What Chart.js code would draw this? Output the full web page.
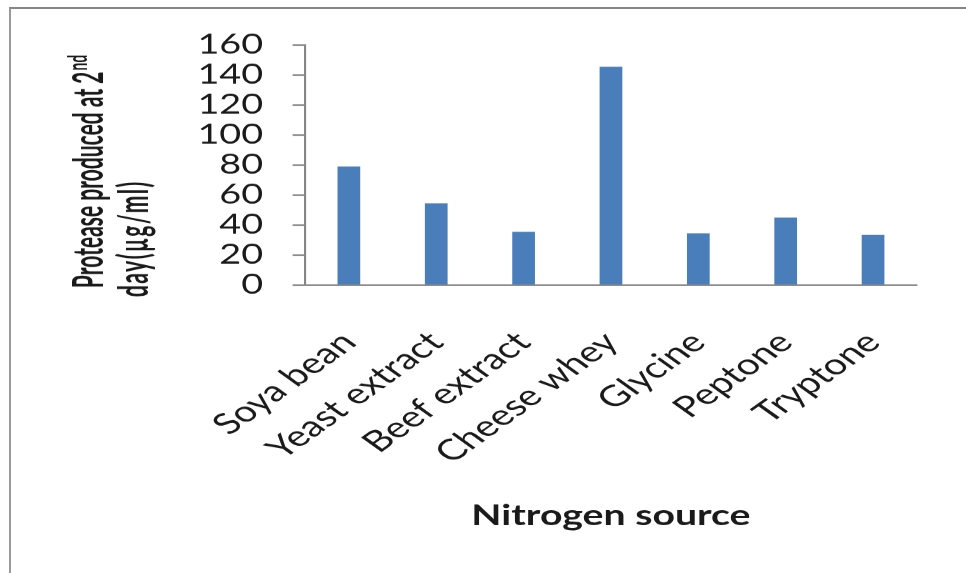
<!DOCTYPE html>
<html>
<head>
<meta charset="utf-8">
<script src="https://cdn.jsdelivr.net/npm/chart.js@4.4.1/dist/chart.umd.min.js"></script>
<style>
  html, body { margin: 0; padding: 0; background: #fff; }
  body { width: 966px; height: 573px; overflow: hidden; position: relative; }
  /* the source picture is stretched sideways, so the chart is drawn narrow and widened */
  #wrap { position: absolute; left: 0; top: 0; width: 690px; height: 573px; transform: scaleX(1.4); transform-origin: 0 0; }
  #frame { position: absolute; left: 9px; top: 7px; width: 980px; height: 600px; border-top: 2px solid #858585; border-left: 2px solid #9a9a9a; }
</style>
</head>
<body>
<div id="frame"></div>
<div id="wrap"><canvas id="chart"></canvas></div>
<script>
// data
const categories = ['Soya bean', 'Yeast extract', 'Beef extract', 'Cheese whey', 'Glycine', 'Peptone', 'Tryptone'];
const protease = [79, 54.5, 35.5, 145.5, 34.5, 45, 33.5];
const yTicks = [0, 20, 40, 60, 80, 100, 120, 140, 160];

const AXIS = '#868686';
const INK = '#1a1a1a';

// axis titles (y title needs a superscript)
const titles = {
  id: 'titles',
  afterDraw(chart) {
    const c = chart.ctx;
    const area = chart.chartArea;
    c.save();
    c.fillStyle = INK;
    c.textBaseline = 'alphabetic';
    c.textAlign = 'center';
    c.font = 'bold 28px Lato';
    c.fillText('Nitrogen source', (area.left + area.right) / 2, 525);

    c.textAlign = 'left';
    const lines = [['Protease produced at 2', 'nd', 288, 0], ['day(µg/ml)', '', 297, 1.5]];
    const xs = [73.5, 106];
    lines.forEach((ln, i) => {
      c.save();
      c.translate(xs[i], ln[2]);
      c.rotate(-Math.PI / 2);
      c.scale(1, 1.4);
      c.font = 'bold 21px Lato';
      c.letterSpacing = ln[3] + 'px';
      c.fillText(ln[0], 0, 0);
      if (ln[1]) {
        const w = c.measureText(ln[0]).width;
        c.font = 'bold 14px Lato';
        c.fillText(ln[1], w + 1, -8);
      }
      c.restore();
    });
    c.restore();
  }
};

new Chart(document.getElementById('chart'), {
  type: 'bar',
  data: {
    labels: categories,
    datasets: [{
      data: protease,
      backgroundColor: '#4a7ebb',
      borderWidth: 0,
      categoryPercentage: 1,
      barPercentage: 0.26
    }]
  },
  options: {
    responsive: true, maintainAspectRatio: false,
    devicePixelRatio: 1.4,
    animation: false,
    layout: { padding: { top: 45, right: 25, left: 0, bottom: 0 } },
    plugins: { legend: { display: false }, tooltip: { enabled: false } },
    scales: {
      x: {
        grid: { display: false, drawTicks: false },
        border: { color: AXIS, width: 1.5 },
        ticks: { autoSkip: false, maxRotation: 45, minRotation: 45, padding: 40, color: INK, font: { family: 'Lato', size: 29 } },
        afterFit: s => { s.height = 288; }
      },
      y: {
        min: 0, max: 160,
        afterBuildTicks: s => { s.ticks = yTicks.map(v => ({ value: v })); },
        grid: { drawOnChartArea: false, drawTicks: true, tickLength: 9, color: AXIS, lineWidth: 1.5 },
        border: { color: AXIS, width: 1.5 },
        ticks: { autoSkip: false, padding: 21, color: INK, font: { family: 'Lato', size: 27 } },
        afterFit: s => { s.width = 218; }
      }
    }
  },
  plugins: [titles]
});
</script>
</body>
</html>
